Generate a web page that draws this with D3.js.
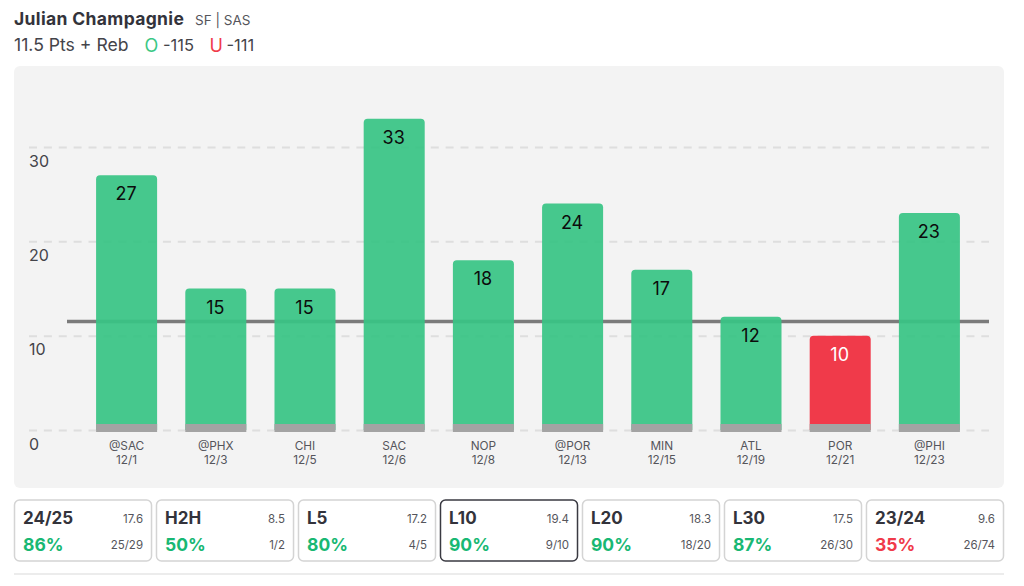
<!DOCTYPE html>
<html>
<head>
<meta charset="utf-8">
<script src="https://cdn.jsdelivr.net/npm/d3@7"></script>
<style>
html, body { margin: 0; padding: 0; background: #fff; }
svg { display: block; font-family: Inter, "Noto Sans", sans-serif; }
</style>
</head>
<body>
<div id="graf"></div>
<script>
var opponents = ["@SAC", "@PHX", "CHI", "SAC", "NOP", "@POR", "MIN", "ATL", "POR", "@PHI"];
var dates = ["12/1", "12/3", "12/5", "12/6", "12/8", "12/13", "12/15", "12/19", "12/21", "12/23"];
var values = [27, 15, 15, 33, 18, 24, 17, 12, 10, 23];
var yTicks = [0, 10, 20, 30];
var propLine = 11.5;

var cardNames = ["24/25", "H2H", "L5", "L10", "L20", "L30", "23/24"];
var cardAverages = ["17.6", "8.5", "17.2", "19.4", "18.3", "17.5", "9.6"];
var cardPercents = [86, 50, 80, 90, 90, 87, 35];
var cardRecords = ["25/29", "1/2", "4/5", "9/10", "18/20", "26/30", "26/74"];
var selectedCard = "L10";

var green = "#38c484", red = "#f03a4a", textDark = "#33333b", textGrey = "#55555b";

var svg = d3.select("#graf").append("svg")
    .attr("width", 1024)
    .attr("height", 586);

// header
var title = svg.append("text").attr("x", 14).attr("y", 25).attr("fill", textDark);
title.append("tspan").attr("font-size", 17.5).attr("font-weight", 700).attr("letter-spacing", 0.35).text("Julian Champagnie");
svg.append("text").attr("x", 195).attr("y", 25).attr("font-size", 13.5).attr("fill", textGrey).text("SF | SAS");

var sub = svg.append("g").attr("font-size", 16.5).attr("fill", "#44444a");
sub.append("text").attr("x", 14).attr("y", 51).attr("font-size", 17.6).text("11.5 Pts + Reb");
sub.append("text").attr("x", 144.5).attr("y", 51.5).attr("font-size", 18).attr("fill", "#3cc885").text("O");
sub.append("text").attr("x", 163).attr("y", 51).text("-115");
sub.append("text").attr("x", 209.5).attr("y", 51.5).attr("font-size", 18).attr("fill", red).text("U");
sub.append("text").attr("x", 226.5).attr("y", 51).text("-111");

// chart panel
svg.append("rect")
    .attr("x", 14).attr("y", 66)
    .attr("width", 990).attr("height", 422)
    .attr("rx", 6)
    .attr("fill", "#f3f3f3");

var x = d3.scaleBand()
    .domain(d3.range(values.length))
    .range([82, 974])
    .paddingInner(0.316)
    .paddingOuter(0.158);

var y = d3.scaleLinear().domain([0, 30]).range([430, 147]);

var yAxis = svg.append("g")
    .attr("transform", "translate(29,0)")
    .call(d3.axisRight(y).tickValues(yTicks).tickSize(960).tickFormat(d3.format("d")));
yAxis.select(".domain").remove();
yAxis.selectAll(".tick line")
    .attr("stroke", "#dedede")
    .attr("stroke-width", 2)
    .attr("stroke-dasharray", "8 6.88");
yAxis.selectAll(".tick text")
    .attr("x", 0)
    .attr("dy", 19)
    .attr("text-anchor", "start")
    .attr("font-family", "Inter, sans-serif")
    .attr("font-size", 16)
    .attr("fill", "#44444a");

svg.append("line")
    .attr("x1", 67).attr("x2", 989)
    .attr("y1", y(propLine)).attr("y2", y(propLine))
    .attr("stroke", "#7b7b7b")
    .attr("stroke-width", 3.5);

function barPath(d, i) {
    var x0 = x(i), x1 = x(i) + x.bandwidth(), top = y(d), r = 4, bottom = y(0);
    return "M" + x0 + "," + bottom + "V" + (top + r) + "Q" + x0 + "," + top + " " + (x0 + r) + "," + top +
        "H" + (x1 - r) + "Q" + x1 + "," + top + " " + x1 + "," + (top + r) + "V" + bottom + "Z";
}

svg.selectAll(".bar")
    .data(values)
    .enter()
    .append("path")
    .attr("class", "bar")
    .attr("d", barPath)
    .attr("fill", function(d) {return d > propLine ? green : red})
    .attr("fill-opacity", function(d) {return d > propLine ? 0.93 : 1});

svg.selectAll(".base")
    .data(values)
    .enter()
    .append("rect")
    .attr("class", "base")
    .attr("x", function(d, i) {return x(i)})
    .attr("y", y(0) - 6)
    .attr("width", x.bandwidth())
    .attr("height", 8)
    .attr("fill", "#a3a3a3");

svg.selectAll(".value")
    .data(values)
    .enter()
    .append("text")
    .attr("class", "value")
    .attr("x", function(d, i) {return x(i) + x.bandwidth() / 2 - 0.5})
    .attr("y", function(d) {return y(d) + 25})
    .attr("text-anchor", "middle")
    .attr("font-size", 18)
    .attr("fill", function(d) {return d > propLine ? "#0c0c0c" : "#fff"})
    .text(function(d) {return d});

var xLabels = svg.selectAll(".xlabel")
    .data(values)
    .enter()
    .append("text")
    .attr("class", "xlabel")
    .attr("text-anchor", "middle")
    .attr("font-size", 11.8)
    .attr("fill", textGrey);
xLabels.append("tspan")
    .attr("x", function(d, i) {return x(i) + x.bandwidth() / 2})
    .attr("y", 450)
    .text(function(d, i) {return opponents[i]});
xLabels.append("tspan")
    .attr("x", function(d, i) {return x(i) + x.bandwidth() / 2})
    .attr("y", 464)
    .text(function(d, i) {return dates[i]});

// stat cards
var cardX = d3.scaleBand()
    .domain(cardNames)
    .range([14.5, 1003.5])
    .paddingInner(0.035);

var cards = svg.selectAll(".card")
    .data(cardNames)
    .enter()
    .append("g")
    .attr("class", "card")
    .attr("transform", function(d) {return "translate(" + cardX(d) + ",500)"});

cards.append("rect")
    .attr("width", cardX.bandwidth())
    .attr("height", 61)
    .attr("rx", 5)
    .attr("fill", "#fff")
    .attr("stroke", function(d) {return d === selectedCard ? "#3a3a42" : "#d4d4d4"})
    .attr("stroke-width", 1.5);

cards.append("text")
    .attr("x", 8.5)
    .attr("y", 24)
    .attr("font-size", 17)
    .attr("font-weight", 700)
    .attr("fill", textDark)
    .text(function(d) {return d});

cards.append("text")
    .attr("x", cardX.bandwidth() - 8.5)
    .attr("y", 23)
    .attr("text-anchor", "end")
    .attr("font-size", 11.5)
    .attr("fill", textGrey)
    .text(function(d, i) {return cardAverages[i]});

cards.append("text")
    .attr("x", 8.5)
    .attr("y", 51)
    .attr("font-size", 17.5)
    .attr("font-weight", 700)
    .attr("fill", function(d, i) {return cardPercents[i] >= 50 ? "#18b873" : red})
    .text(function(d, i) {return cardPercents[i] + "%"});

cards.append("text")
    .attr("x", cardX.bandwidth() - 8.5)
    .attr("y", 49)
    .attr("text-anchor", "end")
    .attr("font-size", 11.5)
    .attr("fill", textGrey)
    .text(function(d, i) {return cardRecords[i]});

svg.append("rect")
    .attr("x", 14).attr("y", 573)
    .attr("width", 990).attr("height", 2)
    .attr("fill", "#ececec");
</script>
</body>
</html>
